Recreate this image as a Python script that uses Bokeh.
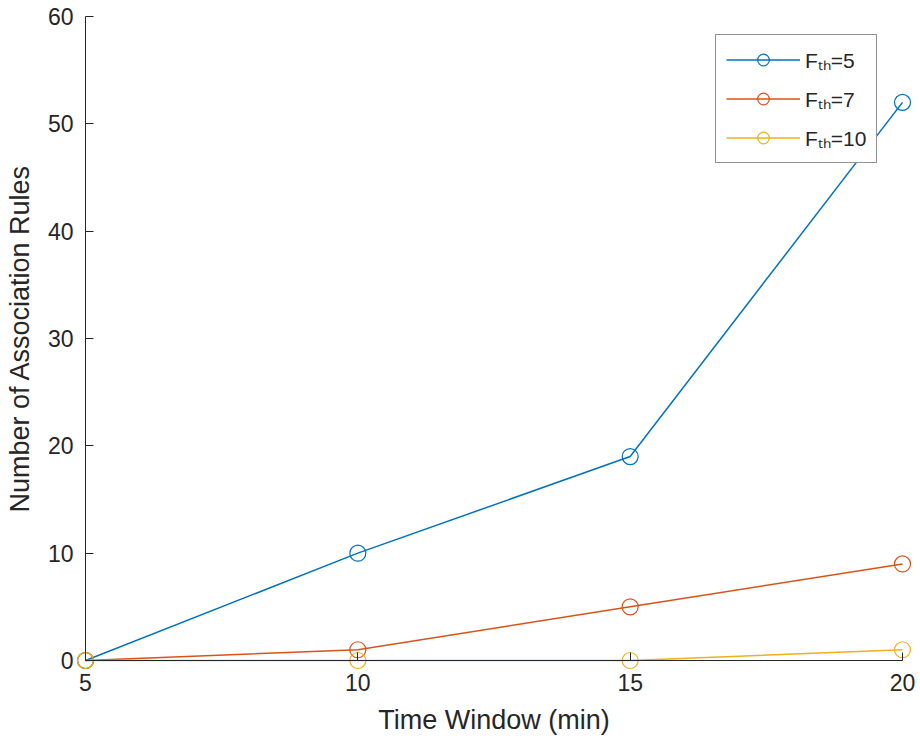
from bokeh.plotting import figure
from bokeh.models import Range1d, FixedTicker, Legend, LegendItem
from bokeh.embed import file_html
from bokeh.resources import INLINE

# Time window lengths (minutes) and rule counts per frequency threshold
time_window = [5, 10, 15, 20]
rules_f5 = [0, 10, 19, 52]
rules_f7 = [0, 1, 5, 9]
rules_f10 = [0, 0, 0, 1]

series_labels = ["F\u209c\u2095=5", "F\u209c\u2095=7", "F\u209c\u2095=10"]
series_colors = ["#0072BD", "#D95319", "#EDB120"]
x_ticks = [5, 10, 15, 20]
y_ticks = [0, 10, 20, 30, 40, 50, 60]

FONT = "Liberation Sans"
INK = "#262626"

W, H = 920, 738
# pixel placement of the axes box inside the canvas
AX_LEFT, AX_RIGHT, AX_TOP, AX_BOTTOM = 85, 902, 16, 660
x0, x1 = x_ticks[0], x_ticks[-1]
y0, y1 = y_ticks[0], y_ticks[-1]
sx = (AX_RIGHT - AX_LEFT) / (x1 - x0)
sy = (AX_BOTTOM - AX_TOP) / (y1 - y0)

# the frame covers the whole canvas; axes are pinned to the data origin
p = figure(
    width=W, height=H,
    x_range=Range1d(x0 - AX_LEFT / sx, x1 + (W - AX_RIGHT) / sx),
    y_range=Range1d(y0 - (H - AX_BOTTOM) / sy, y1 + AX_TOP / sy),
    output_backend="svg", toolbar_location=None,
    min_border=0,
)
p.outline_line_color = None
p.background_fill_color = "white"
p.border_fill_color = "white"
p.grid.visible = False

p.xaxis.fixed_location = y0
p.yaxis.fixed_location = x0
p.xaxis.bounds = (x0, x1)
p.yaxis.bounds = (y0, y1)
p.xaxis.ticker = FixedTicker(ticks=x_ticks)
p.yaxis.ticker = FixedTicker(ticks=y_ticks)
p.xaxis.axis_label = "Time Window (min)"
p.yaxis.axis_label = "Number of Association Rules"

for ax in (p.xaxis, p.yaxis):
    ax.axis_line_color = INK
    ax.axis_line_width = 1
    ax.major_tick_line_color = INK
    ax.major_tick_in = 8
    ax.major_tick_out = 0
    ax.minor_tick_line_color = None
    ax.major_label_text_font = FONT
    ax.major_label_text_font_size = "23px"
    ax.major_label_text_color = INK
    ax.axis_label_text_font = FONT
    ax.axis_label_text_font_size = "27px"
    ax.axis_label_text_font_style = "normal"
    ax.axis_label_text_color = INK
p.xaxis.major_label_standoff = 13
p.xaxis.axis_label_standoff = 11
p.yaxis.major_label_standoff = 12
p.yaxis.axis_label_standoff = 10

items = []
for vals, label, color in zip([rules_f5, rules_f7, rules_f10], series_labels, series_colors):
    ln = p.line(time_window, vals, line_color=color, line_width=1.5)
    pts = p.scatter(time_window, vals, marker="circle", size=16,
                    fill_color=None, line_color=color, line_width=1.2)
    items.append(LegendItem(label=label, renderers=[ln, pts]))

legend = Legend(
    items=items, location=(715, H - 163),
    glyph_width=74, glyph_height=29, label_height=29,
    spacing=10, padding=10, margin=0, label_standoff=5,
    label_text_font=FONT, label_text_font_size="21px", label_text_color=INK,
    border_line_color=INK, border_line_width=1,
    background_fill_color="white", background_fill_alpha=1.0,
)
p.add_layout(legend)

open("out.html", "w").write(file_html(p, INLINE))
